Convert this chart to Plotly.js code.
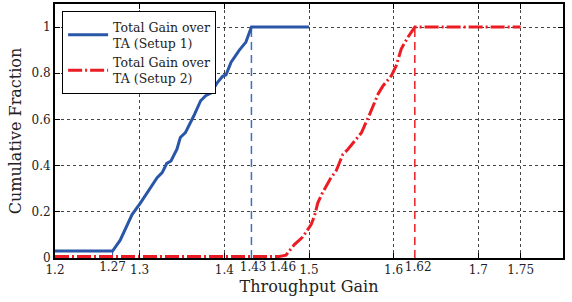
<!DOCTYPE html>
<html>
<head>
<meta charset="utf-8">
<script src="https://cdn.plot.ly/plotly-3.0.1.min.js"></script>
<style>html,body{margin:0;padding:0;background:#fff;}#chart{width:572px;height:302px;}</style>
</head>
<body>
<div id="chart"></div>
<script>
// Setup 1 (blue solid)
const setup1X = [1.2, 1.268, 1.277, 1.284, 1.291, 1.301, 1.309, 1.3206, 1.3266, 1.332, 1.337, 1.344, 1.348, 1.354, 1.364, 1.372, 1.378, 1.384, 1.392, 1.398, 1.402, 1.408, 1.4175, 1.4255, 1.432, 1.5];
const setup1Y = [0.03, 0.03, 0.077, 0.13, 0.188, 0.239, 0.283, 0.348, 0.37, 0.41, 0.42, 0.471, 0.522, 0.543, 0.616, 0.681, 0.703, 0.714, 0.761, 0.787, 0.793, 0.848, 0.899, 0.935, 1.0, 1.0];
// Setup 2 (red dash-dot)
const setup2X = [1.2, 1.465, 1.4728, 1.4827, 1.4926, 1.5025, 1.5064, 1.5104, 1.516, 1.520, 1.526, 1.532, 1.540, 1.546, 1.562, 1.5717, 1.5816, 1.5875, 1.5974, 1.603, 1.609, 1.617, 1.625, 1.75];
const setup2Y = [0.007, 0.007, 0.012, 0.058, 0.091, 0.145, 0.181, 0.239, 0.283, 0.311, 0.348, 0.377, 0.449, 0.471, 0.543, 0.623, 0.71, 0.746, 0.79, 0.833, 0.906, 0.957, 1.0, 1.0];
// Marker lines
const startLineX = [1.268, 1.268];
const startLineY = [0, 0.03];
const mark1X = [1.432, 1.432];
const mark1Y = [0, 1];
const mark2X = [1.625, 1.625];
const mark2Y = [0, 1];
// Ticks
const xTickVals = [1.2, 1.3, 1.4, 1.5, 1.6, 1.7, 1.75, 1.8];
const xTickText = ["1.2", "1.3", "1.4", "1.5", "1.6", "1.7", "1.75", "1.8"];
const xSpecialVals = [1.268, 1.434, 1.469, 1.629];
const xSpecialText = ["1.27", "1.43", "1.46", "1.62"];
const yTickVals = [0, 0.2, 0.4, 0.6, 0.8, 1];
const yTickText = ["0", "0.2", "0.4", "0.6", "0.8", "1"];
const seriesNames = ["Total Gain over<br>TA (Setup 1)", "Total Gain over<br>TA (Setup 2)"];

const blue = "#2a56a8";
const red = "#ec1c24";
const serif = "DejaVu Serif";

const traces = [
  {x: startLineX, y: startLineY, mode: "lines", line: {color: blue, width: 1}, showlegend: false, hoverinfo: "skip"},
  {x: mark1X, y: mark1Y, mode: "lines", line: {color: "#3a6fc4", width: 1.5, dash: "8px,5px"}, showlegend: false, hoverinfo: "skip"},
  {x: mark2X, y: mark2Y, mode: "lines", line: {color: red, width: 1.5, dash: "8px,5px"}, showlegend: false, hoverinfo: "skip"},
  {x: setup1X, y: setup1Y, mode: "lines", name: seriesNames[0], line: {color: blue, width: 3}},
  {x: setup2X, y: setup2Y, mode: "lines", name: seriesNames[1], line: {color: red, width: 3, dash: "14px,3px,2px,3px"}}
];

const layout = {
  width: 572, height: 302,
  margin: {l: 55, r: 9, t: 4, b: 44},
  paper_bgcolor: "#fff", plot_bgcolor: "#fff",
  font: {family: serif, size: 12, color: "#222"},
  showlegend: true,
  legend: {
    x: 0.014, y: 0.972, xanchor: "left", yanchor: "top",
    bgcolor: "#fff", bordercolor: "#000", borderwidth: 1,
    font: {family: serif, size: 12.5, color: "#222"},
    tracegroupgap: 0, itemwidth: 40
  },
  xaxis: {
    range: [1.2, 1.8], tickvals: xTickVals, ticktext: xTickText, tickangle: 0,
    showgrid: true, gridcolor: "#444", griddash: "dot", gridwidth: 1,
    zeroline: false, showline: true, linecolor: "#000", linewidth: 2, mirror: "ticks",
    ticks: "inside", ticklen: 5, tickcolor: "#000",
    tickfont: {family: serif, size: 12, color: "#222"},
    title: {text: "Throughput Gain", font: {family: serif, size: 16, color: "#222"}, standoff: 4}
  },
  xaxis2: {
    overlaying: "x", anchor: "y", side: "bottom", tickangle: 0,
    range: [1.2, 1.8], tickvals: xSpecialVals, ticktext: xSpecialText,
    showgrid: false, zeroline: false, showline: false, ticks: "",
    tickfont: {family: serif, size: 12, color: "#222"}
  },
  yaxis: {
    range: [0, 1.1], tickvals: yTickVals, ticktext: yTickText,
    showgrid: true, gridcolor: "#444", griddash: "dot", gridwidth: 1,
    zeroline: false, showline: true, linecolor: "#000", linewidth: 2, mirror: "ticks",
    ticks: "inside", ticklen: 5, tickcolor: "#000",
    tickfont: {family: serif, size: 12, color: "#222"},
    title: {text: "Cumulative Fraction", font: {family: serif, size: 16, color: "#222"}, standoff: 6}
  }
};

// invisible trace to activate xaxis2
traces.push({x: [1.2], y: [0], xaxis: "x2", yaxis: "y", mode: "markers", marker: {opacity: 0}, showlegend: false, hoverinfo: "skip"});

Plotly.newPlot("chart", traces, layout, {displayModeBar: false, staticPlot: true});
</script>
</body>
</html>
